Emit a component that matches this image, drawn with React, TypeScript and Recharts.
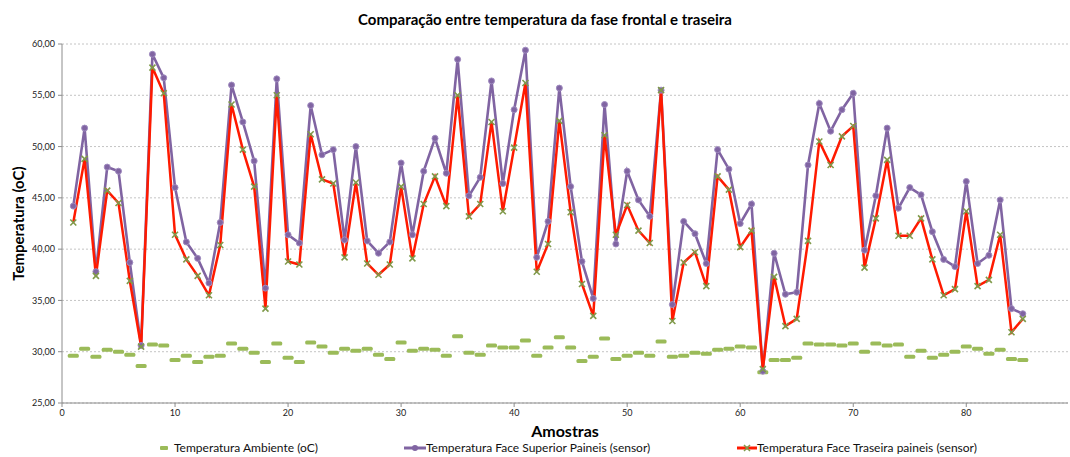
import { LineChart, Line, XAxis, YAxis, CartesianGrid, Legend, Label } from "recharts"

const samples = Array.from({ length: 85 }, (_, i) => i + 1)

const ambiente = [
  29.6, 30.3, 29.5, 30.2, 30.0, 29.7, 28.6, 30.7, 30.6, 29.2,
  29.6, 29.0, 29.5, 29.6, 30.8, 30.3, 29.9, 29.0, 30.8, 29.4,
  29.0, 30.9, 30.5, 29.9, 30.3, 30.1, 30.3, 29.7, 29.3, 30.9,
  30.1, 30.3, 30.2, 29.6, 31.5, 29.9, 29.7, 30.6, 30.4, 30.4,
  31.1, 29.6, 30.4, 31.4, 30.4, 29.1, 29.5, 31.3, 29.3, 29.6,
  29.9, 29.6, 31.0, 29.5, 29.6, 29.9, 29.8, 30.2, 30.3, 30.5,
  30.4, 28.0, 29.2, 29.2, 29.4, 30.8, 30.7, 30.7, 30.6, 30.8,
  30.0, 30.8, 30.6, 30.7, 29.5, 30.1, 29.4, 29.7, 30.0, 30.5,
  30.3, 29.8, 30.2, 29.3, 29.2
]

const faceSuperior = [
  44.2, 51.8, 37.8, 48.0, 47.6, 38.7, 30.6, 59.0, 56.7, 46.0,
  40.7, 39.1, 36.7, 42.6, 56.0, 52.4, 48.6, 36.2, 56.6, 41.4,
  40.6, 54.0, 49.2, 49.7, 40.9, 50.0, 40.8, 39.6, 40.7, 48.4,
  41.4, 47.6, 50.8, 47.4, 58.5, 45.2, 47.0, 56.4, 46.4, 53.6,
  59.4, 39.2, 42.7, 55.7, 46.1, 38.8, 35.2, 54.1, 40.5, 47.6,
  44.8, 43.2, 55.5, 34.6, 42.7, 41.5, 38.6, 49.7, 47.8, 42.5,
  44.4, 28.1, 39.6, 35.6, 35.8, 48.2, 54.2, 51.5, 53.6, 55.2,
  39.9, 45.2, 51.8, 44.0, 46.0, 45.3, 41.7, 39.0, 38.3, 46.6,
  38.6, 39.4, 44.8, 34.2, 33.7
]

const faceTraseira = [
  42.6, 48.8, 37.4, 45.7, 44.5, 36.9, 30.5, 57.7, 55.2, 41.4,
  39.0, 37.4, 35.5, 40.4, 54.1, 49.7, 46.1, 34.2, 55.0, 38.8,
  38.5, 51.2, 46.8, 46.4, 39.2, 46.5, 38.6, 37.5, 38.5, 46.1,
  39.1, 44.4, 47.1, 44.2, 55.0, 43.2, 44.4, 52.4, 43.7, 49.9,
  56.2, 37.8, 40.5, 52.5, 43.6, 36.6, 33.5, 51.1, 41.4, 44.3,
  41.8, 40.6, 55.5, 33.0, 38.7, 39.7, 36.4, 47.1, 45.8, 40.2,
  41.8, 28.3, 37.3, 32.5, 33.2, 40.8, 50.5, 48.2, 51.0, 52.0,
  38.2, 43.0, 48.7, 41.3, 41.3, 43.0, 39.0, 35.5, 36.1, 43.7,
  36.4, 37.0, 41.4, 31.9, 33.2
]

const xTicks = [0, 10, 20, 30, 40, 50, 60, 70, 80]
const yTicks = [25, 30, 35, 40, 45, 50, 55, 60]

const data = samples.map((x, i) => ({
  x,
  ambiente: ambiente[i],
  superior: faceSuperior[i],
  traseira: faceTraseira[i],
}))

const FONT = "Lato, 'Liberation Sans', sans-serif"
const GREEN = "#9bbb59"
const PURPLE = "#8064a2"
const RED = "#ff1a00"

const DashDot = (props: any) => {
  const { cx, cy, index } = props
  if (cx == null || cy == null) return <g key={`a-${index}`} />
  return <rect key={`a-${index}`} x={cx - 5.5} y={cy - 2} width={11} height={4} rx={1.5} fill={GREEN} />
}

const XDot = (props: any) => {
  const { cx, cy, index } = props
  if (cx == null || cy == null) return <g key={`t-${index}`} />
  return (
    <path
      key={`t-${index}`}
      d={`M${cx - 3},${cy - 3}L${cx + 3},${cy + 3}M${cx - 3},${cy + 3}L${cx + 3},${cy - 3}`}
      stroke="#7f9a4a"
      strokeWidth={1.6}
    />
  )
}

const renderLegend = () => (
  <div style={{ position: "relative", height: 20, width: 1070, fontFamily: FONT, fontSize: 12, color: "#111" }}>
    <div style={{ position: "absolute", left: 158, top: 3, display: "flex", alignItems: "center" }}>
      <svg width={16} height={10}>
        <rect x={2} y={3} width={8} height={4} rx={1} fill={GREEN} />
      </svg>
      <span>Temperatura Ambiente (oC)</span>
    </div>
    <div style={{ position: "absolute", left: 404, top: 3, display: "flex", alignItems: "center" }}>
      <svg width={22} height={10}>
        <line x1={0} y1={5} x2={22} y2={5} stroke={PURPLE} strokeWidth={3} />
        <circle cx={11} cy={5} r={3} fill={PURPLE} />
      </svg>
      <span>Temperatura Face Superior Paineis (sensor)</span>
    </div>
    <div style={{ position: "absolute", left: 737, top: 3, display: "flex", alignItems: "center" }}>
      <svg width={20} height={10}>
        <line x1={0} y1={5} x2={20} y2={5} stroke={RED} strokeWidth={3} />
        <path d="M7,2L13,8M7,8L13,2" stroke="#7f9a4a" strokeWidth={1.5} />
      </svg>
      <span>Temperatura Face Traseira paineis (sensor)</span>
    </div>
  </div>
)

const YTitle = (props: any) => {
  const { viewBox } = props
  const cy = viewBox.y + viewBox.height / 2
  return (
    <text
      x={18}
      y={cy}
      transform={`rotate(-90, 18, ${cy})`}
      textAnchor="middle"
      dominantBaseline="central"
      fontFamily={FONT}
      fontWeight="bold"
      fontSize={15}
      fill="#000"
    >
      Temperatura (oC)
    </text>
  )
}

export default function App() {
  return (
    <div style={{ position: "fixed", left: 0, top: 0, width: 1070, height: 457, background: "#fff" }}>
      <div
        style={{
          position: "absolute",
          top: 10,
          left: 0,
          width: 1090,
          textAlign: "center",
          fontFamily: FONT,
          fontWeight: "bold",
          fontSize: 15,
          color: "#000",
        }}
      >
        Comparação entre temperatura da fase frontal e traseira
      </div>
      <LineChart width={1070} height={457} data={data} margin={{ top: 44, right: 2, left: 0, bottom: 0 }}>
        <CartesianGrid vertical={false} stroke="#c4c4c4" strokeDasharray="2 2" />
        <XAxis
          dataKey="x"
          type="number"
          domain={[0, 89]}
          ticks={xTicks}
          height={34}
          stroke="#8c8c8c"
          tickSize={4}
          tickMargin={3}
          tick={{ fontSize: 9, fontFamily: FONT, fill: "#222" }}
        >
          <Label value="Amostras" position="insideBottom" offset={0} style={{ fontFamily: FONT, fontWeight: "bold", fontSize: 16, fill: "#000" }} />
        </XAxis>
        <YAxis
          type="number"
          domain={[25, 60]}
          ticks={yTicks}
          width={62}
          stroke="#8c8c8c"
          tickSize={4}
          tickMargin={3}
          tickFormatter={(v: number) => v.toFixed(2).replace(".", ",")}
          tick={{ fontSize: 9, fontFamily: FONT, fill: "#222" }}
          label={<YTitle />}
        />
        <Legend verticalAlign="bottom" height={20} content={renderLegend} wrapperStyle={{ left: 0, bottom: 0 }} />
        <Line
          dataKey="ambiente"
          stroke="none"
          strokeWidth={0}
          dot={DashDot}
          activeDot={false}
          isAnimationActive={false}
        />
        <Line
          dataKey="superior"
          stroke={PURPLE}
          strokeWidth={2.6}
          dot={{ r: 3, fill: PURPLE, stroke: "#a08cc0", strokeWidth: 1 }}
          activeDot={false}
          isAnimationActive={false}
        />
        <Line
          dataKey="traseira"
          stroke={RED}
          strokeWidth={2.5}
          dot={XDot}
          activeDot={false}
          isAnimationActive={false}
        />
      </LineChart>
    </div>
  )
}
